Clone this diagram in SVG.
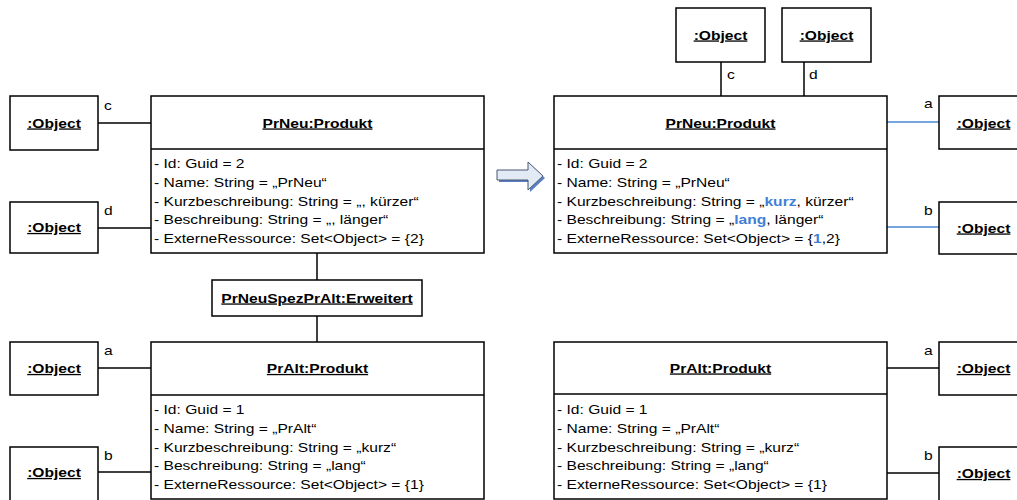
<svg xmlns="http://www.w3.org/2000/svg" width="1017" height="500" viewBox="0 0 1017 500">
<style>
.t { font-family: "Liberation Sans", Arial, sans-serif; font-size: 13px; fill: #000; }
.h { font-weight: bold; text-decoration: underline; text-anchor: middle; }
.hl { font-weight: bold; fill: #3f7fd6; }
.box { fill: #fff; stroke: #000; stroke-width: 1.5; }
.ln { stroke: #000; stroke-width: 1.5; fill: none; }
.bl { stroke: #4a86d0; stroke-width: 1.5; fill: none; }
</style>
<rect width="1017" height="500" fill="#fff"/>

<g id="connectors">
  <line class="ln" x1="98" y1="123" x2="151" y2="123"/>
  <line class="ln" x1="98" y1="228" x2="151" y2="228"/>
  <line class="ln" x1="317" y1="253" x2="317" y2="280"/>
  <line class="ln" x1="317" y1="316" x2="317" y2="342"/>
  <line class="ln" x1="98" y1="368" x2="151" y2="368"/>
  <line class="ln" x1="98" y1="472" x2="151" y2="472"/>
  <line class="ln" x1="721" y1="62" x2="721" y2="96"/>
  <line class="ln" x1="804" y1="62" x2="804" y2="96"/>
  <line class="bl" x1="887" y1="122" x2="939" y2="122"/>
  <line class="bl" x1="887" y1="227" x2="939" y2="227"/>
  <line class="ln" x1="887" y1="368" x2="939" y2="368"/>
  <line class="ln" x1="887" y1="473" x2="939" y2="473"/>
  <text class="t" transform="translate(104,110) scale(1.2,1)">c</text>
  <text class="t" transform="translate(104,215) scale(1.2,1)">d</text>
  <text class="t" transform="translate(104,355) scale(1.2,1)">a</text>
  <text class="t" transform="translate(104,460) scale(1.2,1)">b</text>
  <text class="t" transform="translate(727,79) scale(1.2,1)">c</text>
  <text class="t" transform="translate(809,79) scale(1.2,1)">d</text>
  <text class="t" transform="translate(924,108) scale(1.2,1)">a</text>
  <text class="t" transform="translate(924,215) scale(1.2,1)">b</text>
  <text class="t" transform="translate(924,355) scale(1.2,1)">a</text>
  <text class="t" transform="translate(924,460) scale(1.2,1)">b</text>
</g>

<g id="arrow">
  <polygon points="499,172 530,172 530,164 545,178 530,192 530,182 499,182" fill="#5b7fc0"/>
  <polygon points="497,170 528,170 528,162 543,176 528,190 528,180 497,180" fill="#e2eaf6" stroke="#4a5670" stroke-width="1"/>
</g>

<g id="obj-c-left">
  <rect class="box" x="10" y="96" width="88" height="54"/>
  <text class="t h" transform="translate(54,127.5) scale(1.2,1)">:Object</text>
</g>
<g id="obj-d-left">
  <rect class="box" x="10" y="202" width="88" height="51"/>
  <text class="t h" transform="translate(54,232) scale(1.2,1)">:Object</text>
</g>
<g id="obj-a-left">
  <rect class="box" x="10" y="342" width="88" height="53"/>
  <text class="t h" transform="translate(54,373) scale(1.2,1)">:Object</text>
</g>
<g id="obj-b-left">
  <rect class="box" x="10" y="447" width="88" height="54"/>
  <text class="t h" transform="translate(54,477) scale(1.2,1)">:Object</text>
</g>

<g id="prneu-left">
  <rect class="box" x="151" y="96" width="333" height="157"/>
  <line class="ln" x1="151" y1="149" x2="484" y2="149"/>
  <text class="t h" transform="translate(317.5,127.5) scale(1.2,1)">PrNeu:Produkt</text>
  <text class="t" transform="translate(154,168) scale(1.2,1)">- Id: Guid = 2</text>
  <text class="t" transform="translate(154,186.8) scale(1.2,1)">- Name: String = „PrNeu“</text>
  <text class="t" transform="translate(154,205.6) scale(1.2,1)">- Kurzbeschreibung: String = „, kürzer“</text>
  <text class="t" transform="translate(154,224.4) scale(1.2,1)">- Beschreibung: String = „, länger“</text>
  <text class="t" transform="translate(154,243.2) scale(1.2,1)">- ExterneRessource: Set&lt;Object&gt; = {2}</text>
</g>

<g id="erweitert">
  <rect class="box" x="212" y="280" width="210" height="36"/>
  <text class="t h" transform="translate(317,302.5) scale(1.2,1)">PrNeuSpezPrAlt:Erweitert</text>
</g>

<g id="pralt-left">
  <rect class="box" x="151" y="342" width="333" height="157"/>
  <line class="ln" x1="151" y1="395" x2="484" y2="395"/>
  <text class="t h" transform="translate(317.5,373) scale(1.2,1)">PrAlt:Produkt</text>
  <text class="t" transform="translate(154,414) scale(1.2,1)">- Id: Guid = 1</text>
  <text class="t" transform="translate(154,432.8) scale(1.2,1)">- Name: String = „PrAlt“</text>
  <text class="t" transform="translate(154,451.6) scale(1.2,1)">- Kurzbeschreibung: String = „kurz“</text>
  <text class="t" transform="translate(154,470.4) scale(1.2,1)">- Beschreibung: String = „lang“</text>
  <text class="t" transform="translate(154,489.2) scale(1.2,1)">- ExterneRessource: Set&lt;Object&gt; = {1}</text>
</g>

<g id="obj-c-top">
  <rect class="box" x="676" y="8" width="89" height="54"/>
  <text class="t h" transform="translate(720.5,39.5) scale(1.2,1)">:Object</text>
</g>
<g id="obj-d-top">
  <rect class="box" x="782" y="8" width="89" height="54"/>
  <text class="t h" transform="translate(826.5,39.5) scale(1.2,1)">:Object</text>
</g>

<g id="prneu-right">
  <rect class="box" x="554" y="96" width="333" height="157"/>
  <line class="ln" x1="554" y1="149" x2="887" y2="149"/>
  <text class="t h" transform="translate(720.5,127.5) scale(1.2,1)">PrNeu:Produkt</text>
  <text class="t" transform="translate(557,168) scale(1.2,1)">- Id: Guid = 2</text>
  <text class="t" transform="translate(557,186.8) scale(1.2,1)">- Name: String = „PrNeu“</text>
  <text class="t" transform="translate(557,205.6) scale(1.2,1)">- Kurzbeschreibung: String = „<tspan class="hl">kurz</tspan>, kürzer“</text>
  <text class="t" transform="translate(557,224.4) scale(1.2,1)">- Beschreibung: String = „<tspan class="hl">lang</tspan>, länger“</text>
  <text class="t" transform="translate(557,243.2) scale(1.2,1)">- ExterneRessource: Set&lt;Object&gt; = {<tspan class="hl">1</tspan>,2}</text>
</g>

<g id="obj-a-right-top">
  <rect class="box" x="939" y="96" width="90" height="53"/>
  <text class="t h" transform="translate(983.5,127.5) scale(1.2,1)">:Object</text>
</g>
<g id="obj-b-right-top">
  <rect class="box" x="939" y="202" width="90" height="52"/>
  <text class="t h" transform="translate(983.5,232.5) scale(1.2,1)">:Object</text>
</g>

<g id="pralt-right">
  <rect class="box" x="554" y="342" width="333" height="157"/>
  <line class="ln" x1="554" y1="394" x2="887" y2="394"/>
  <text class="t h" transform="translate(720.5,372.5) scale(1.2,1)">PrAlt:Produkt</text>
  <text class="t" transform="translate(557,414) scale(1.2,1)">- Id: Guid = 1</text>
  <text class="t" transform="translate(557,432.8) scale(1.2,1)">- Name: String = „PrAlt“</text>
  <text class="t" transform="translate(557,451.6) scale(1.2,1)">- Kurzbeschreibung: String = „kurz“</text>
  <text class="t" transform="translate(557,470.4) scale(1.2,1)">- Beschreibung: String = „lang“</text>
  <text class="t" transform="translate(557,489.2) scale(1.2,1)">- ExterneRessource: Set&lt;Object&gt; = {1}</text>
</g>

<g id="obj-a-right-bottom">
  <rect class="box" x="939" y="342" width="90" height="53"/>
  <text class="t h" transform="translate(983.5,373) scale(1.2,1)">:Object</text>
</g>
<g id="obj-b-right-bottom">
  <rect class="box" x="939" y="447" width="90" height="54"/>
  <text class="t h" transform="translate(983.5,478) scale(1.2,1)">:Object</text>
</g>
</svg>
